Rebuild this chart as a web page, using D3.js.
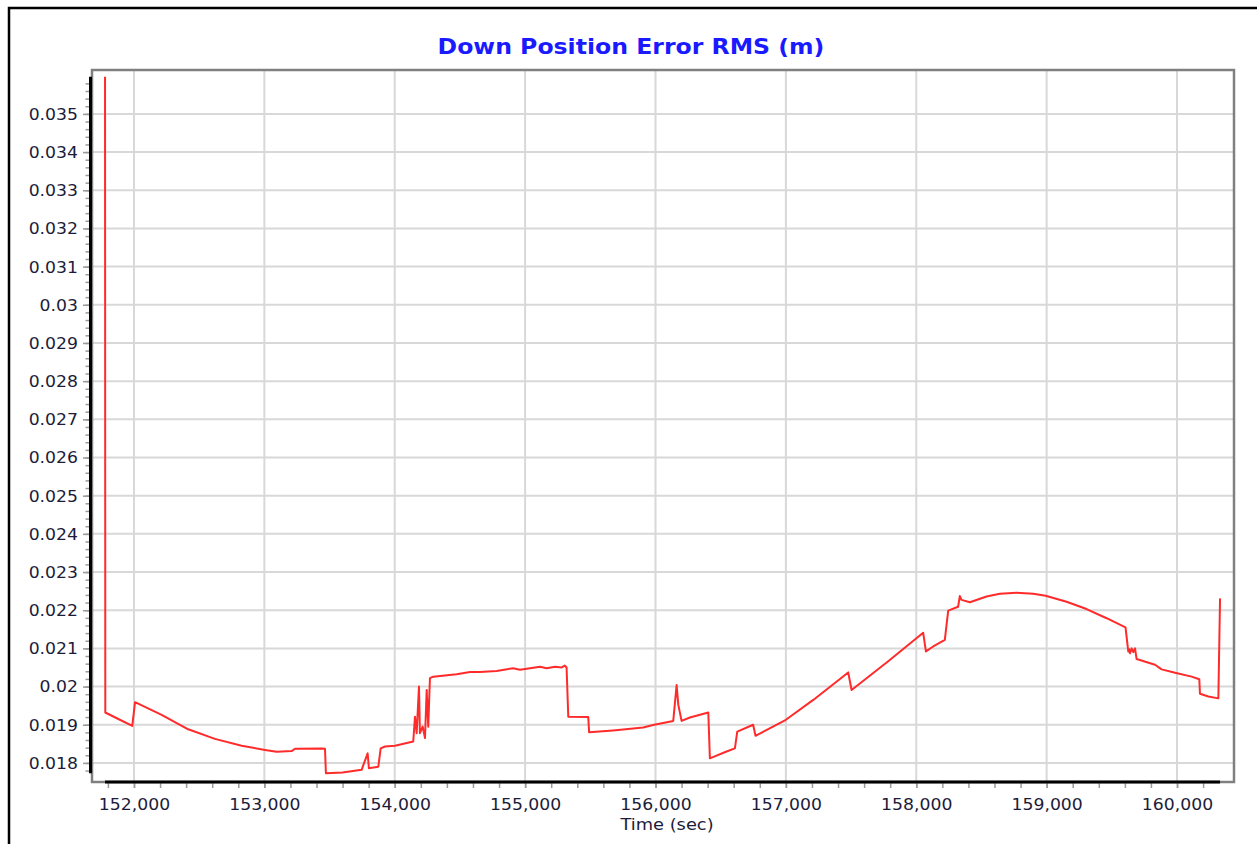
<!DOCTYPE html>
<html>
<head>
<meta charset="utf-8">
<script src="https://cdn.jsdelivr.net/npm/d3@7"></script>
<style>
  html, body { margin: 0; padding: 0; background: #fff; overflow: hidden; }
  text { font-family: "DejaVu Sans", Verdana, sans-serif; }
</style>
</head>
<body>
<script>
// Down position error RMS over GPS time
const timeSec = [
  151778, 151780, 151880, 151987, 152008, 152212, 152416, 152621, 152826, 153005,
  153094, 153209, 153235, 153439, 153465, 153472, 153600, 153746, 153792, 153802,
  153874, 153892, 153925, 154002, 154142, 154155, 154168, 154186, 154193, 154214,
  154232, 154245, 154257, 154270, 154295, 154475, 154577, 154653, 154781, 154909,
  154960, 155000, 155114, 155165, 155229, 155280, 155305, 155318, 155331, 155484,
  155491, 155675, 155905, 155990, 156136, 156162, 156175, 156200, 156264, 156405,
  156417, 156545, 156609, 156627, 156749, 156767, 157000, 157210, 157478, 157504,
  157780, 158053, 158074, 158130, 158219, 158245, 158321, 158334, 158347, 158411,
  158539, 158641, 158769, 158897, 158992, 159153, 159306, 159460, 159605, 159626,
  159632, 159639, 159652, 159665, 159678, 159690, 159831, 159882, 159985, 160112,
  160171, 160176, 160240, 160317, 160330
];
const downRms = [
  0.03597, 0.01932, 0.01915, 0.01897, 0.01959, 0.01926, 0.01888, 0.01863, 0.01845, 0.01834,
  0.01829, 0.01831, 0.01837, 0.01838, 0.01837, 0.01773, 0.01775, 0.01782, 0.01825, 0.01786,
  0.01790, 0.01838, 0.01843, 0.01845, 0.01856, 0.01921, 0.01878, 0.02000, 0.01878, 0.01895,
  0.01865, 0.01991, 0.01895, 0.02022, 0.02026, 0.02032, 0.02038, 0.02038, 0.02041, 0.02048,
  0.02044, 0.02046, 0.02052, 0.02048, 0.02052, 0.02050, 0.02055, 0.02050, 0.01921, 0.01920,
  0.01880, 0.01885, 0.01893, 0.01900, 0.01910, 0.02004, 0.01952, 0.01910, 0.01919, 0.01932,
  0.01812, 0.01830, 0.01838, 0.01882, 0.01900, 0.01871, 0.01913, 0.01965, 0.02037, 0.01991,
  0.02065, 0.02141, 0.02092, 0.02105, 0.02122, 0.02199, 0.02209, 0.02237, 0.02227, 0.02221,
  0.02236, 0.02243, 0.02246, 0.02243, 0.02238, 0.02222, 0.02203, 0.02179, 0.02155, 0.02092,
  0.02098, 0.02087, 0.02100, 0.02090, 0.02100, 0.02072, 0.02057, 0.02045, 0.02036, 0.02026,
  0.02019, 0.01981, 0.01974, 0.01969, 0.02231
];

const xTickValues = [152000, 153000, 154000, 155000, 156000, 157000, 158000, 159000, 160000];
const xTickLabels = ["152,000", "153,000", "154,000", "155,000", "156,000", "157,000", "158,000", "159,000", "160,000"];
const yTickValues = [0.018, 0.019, 0.020, 0.021, 0.022, 0.023, 0.024, 0.025, 0.026, 0.027,
                     0.028, 0.029, 0.030, 0.031, 0.032, 0.033, 0.034, 0.035];
const yTickLabels = ["0.018", "0.019", "0.02", "0.021", "0.022", "0.023", "0.024", "0.025", "0.026", "0.027",
                     "0.028", "0.029", "0.03", "0.031", "0.032", "0.033", "0.034", "0.035"];

const chartTitle = "Down Position Error RMS (m)";
const xAxisTitle = "Time (sec)";

const W = 1257, H = 844;
const plot = { left: 92, top: 70, right: 1234, bottom: 782 };
const TEXT_STRETCH = 1.15;

const svg = d3.select("body").append("svg")
  .attr("width", W).attr("height", H);

svg.append("rect").attr("width", W).attr("height", H).attr("fill", "#fff");

// outer panel border (runs past the right and bottom edges)
svg.append("rect")
  .attr("x", 9).attr("y", 8).attr("width", 1270).attr("height", 860)
  .attr("fill", "none").attr("stroke", "#000").attr("stroke-width", 2.5);

const x = d3.scaleLinear().domain([151678, 160437]).range([plot.left, plot.right]);
const y = d3.scaleLinear().domain([0.0175, 0.03615]).range([plot.bottom, plot.top]);

const tMin = d3.min(timeSec), tMax = d3.max(timeSec);
const vMin = d3.min(downRms), vMax = d3.max(downRms);

// grid
const grid = svg.append("g").attr("stroke", "#d8d8d8").attr("stroke-width", 2);
grid.selectAll("line.v").data(xTickValues).join("line").attr("class", "v")
  .attr("x1", d => x(d)).attr("x2", d => x(d))
  .attr("y1", plot.top).attr("y2", plot.bottom);
grid.selectAll("line.h").data(yTickValues).join("line").attr("class", "h")
  .attr("x1", plot.left).attr("x2", plot.right)
  .attr("y1", d => y(d)).attr("y2", d => y(d));

// plot frame
svg.append("rect")
  .attr("x", plot.left).attr("y", plot.top)
  .attr("width", plot.right - plot.left).attr("height", plot.bottom - plot.top)
  .attr("fill", "none").attr("stroke", "#808080").attr("stroke-width", 2.5);

// series
const line = d3.line().x((d, i) => x(timeSec[i])).y(d => y(d));
svg.append("path").datum(downRms)
  .attr("d", line)
  .attr("fill", "none").attr("stroke", "#ff2b2b").attr("stroke-width", 2)
  .attr("stroke-linejoin", "round");

// stretched text helper
function stretch(sel) {
  sel.each(function () {
    const t = d3.select(this);
    const tx = +t.attr("x") || 0, ty = +t.attr("y") || 0;
    t.attr("x", 0).attr("y", 0)
      .attr("transform", `translate(${tx},${ty}) scale(${TEXT_STRETCH},1)`);
  });
}

// y axis: minor ticks over the data range, major ticks with labels
const yMinor = d3.range(Math.ceil(vMin / 0.0002) * 0.0002, vMax, 0.0002);
svg.append("g").attr("transform", "translate(89,0)")
  .call(d3.axisLeft(y).tickValues(yMinor).tickSize(3.5).tickFormat(""))
  .call(g => g.select(".domain").remove())
  .call(g => g.selectAll("line").attr("stroke", "#9a9a9a").attr("stroke-width", 1.5));

const yAxis = svg.append("g").attr("transform", "translate(89,0)")
  .call(d3.axisLeft(y).tickValues(yTickValues).tickSize(6)
    .tickFormat((d, i) => yTickLabels[i]))
  .call(g => g.select(".domain").remove());
yAxis.selectAll("line").attr("stroke", "#9a9a9a").attr("stroke-width", 1.5);
yAxis.selectAll("text")
  .attr("x", -11).attr("y", 0).attr("dy", "0.36em")
  .attr("font-size", 15).attr("fill", "#1c1c3a")
  .attr("font-family", "DejaVu Sans, Verdana, sans-serif")
  .call(stretch);

// x axis
const xMinor = d3.range(Math.ceil(tMin / 200) * 200, tMax, 200);
svg.append("g").attr("transform", `translate(0,${plot.bottom + 1})`)
  .call(d3.axisBottom(x).tickValues(xMinor).tickSize(5).tickFormat(""))
  .call(g => g.select(".domain").remove())
  .call(g => g.selectAll("line").attr("stroke", "#9a9a9a").attr("stroke-width", 1.5));

const xAxis = svg.append("g").attr("transform", `translate(0,${plot.bottom + 1})`)
  .call(d3.axisBottom(x).tickValues(xTickValues).tickSize(5)
    .tickFormat((d, i) => xTickLabels[i]))
  .call(g => g.select(".domain").remove());
xAxis.selectAll("line").attr("stroke", "#9a9a9a").attr("stroke-width", 1.5);
xAxis.selectAll("text")
  .attr("y", 27).attr("dy", 0)
  .attr("font-size", 15).attr("fill", "#1c1c3a")
  .attr("font-family", "DejaVu Sans, Verdana, sans-serif")
  .call(stretch);

// black axis lines spanning the data extent
svg.append("line")
  .attr("x1", 90.5).attr("x2", 90.5)
  .attr("y1", y(vMax)).attr("y2", y(vMin))
  .attr("stroke", "#000").attr("stroke-width", 3);
svg.append("line")
  .attr("x1", x(tMin)).attr("x2", x(tMax))
  .attr("y1", plot.bottom).attr("y2", plot.bottom)
  .attr("stroke", "#000").attr("stroke-width", 3);

// titles
svg.append("text")
  .attr("x", 631).attr("y", 54)
  .attr("text-anchor", "middle")
  .attr("font-size", 20.5).attr("font-weight", "bold")
  .attr("fill", "#1a1aff")
  .text(chartTitle)
  .call(stretch);

svg.append("text")
  .attr("x", 667).attr("y", 830)
  .attr("text-anchor", "middle")
  .attr("font-size", 15.5).attr("fill", "#1c1c3a")
  .text(xAxisTitle)
  .call(stretch);
</script>
</body>
</html>
